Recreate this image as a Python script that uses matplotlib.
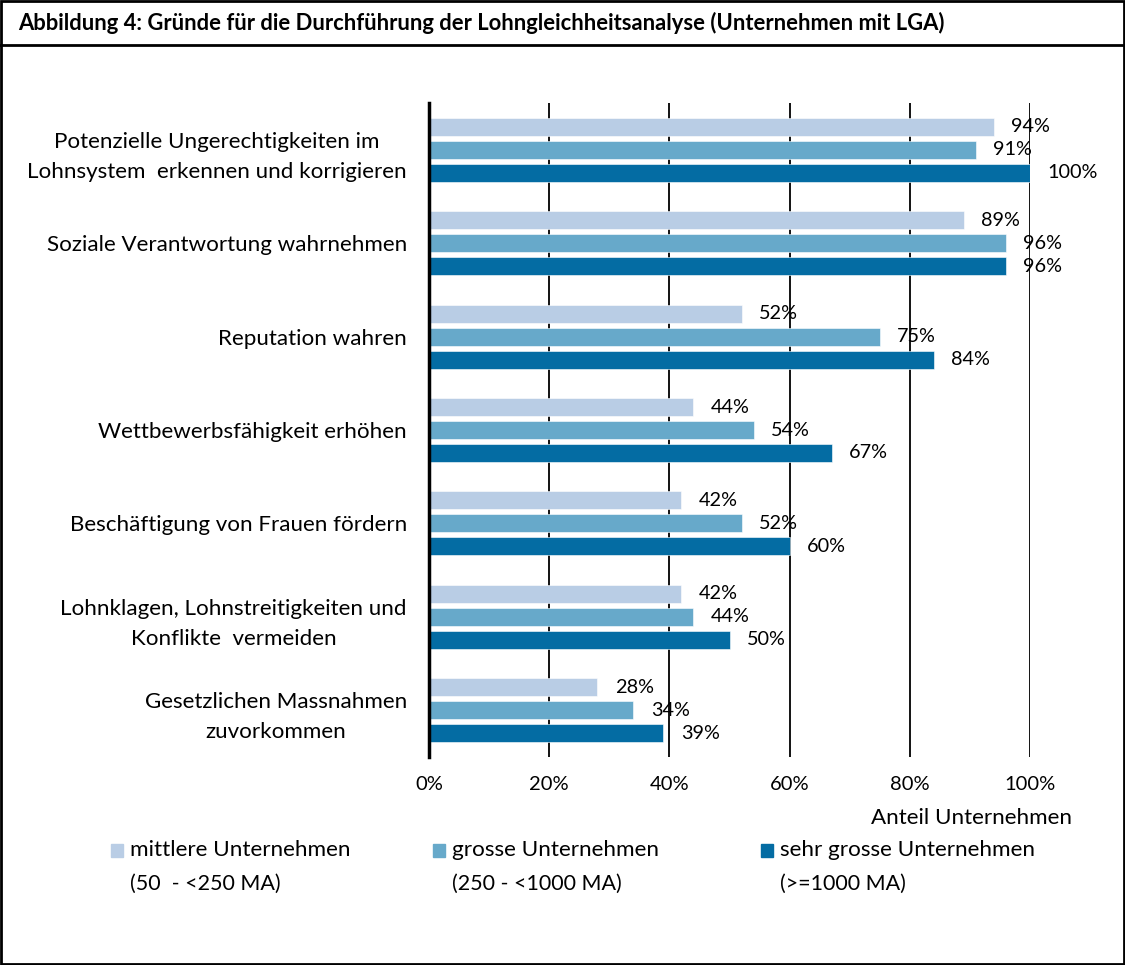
import matplotlib
matplotlib.use("Agg")
import matplotlib.pyplot as plt
from matplotlib.patches import Rectangle
from matplotlib.lines import Line2D
import numpy as np

plt.rcParams['font.family'] = ['Lato', 'DejaVu Sans']

# data
categories = [
    "Potenzielle Ungerechtigkeiten im\nLohnsystem  erkennen und korrigieren",
    "Soziale Verantwortung wahrnehmen",
    "Reputation wahren",
    "Wettbewerbsfähigkeit erhöhen",
    "Beschäftigung von Frauen fördern",
    "Lohnklagen, Lohnstreitigkeiten und\nKonflikte  vermeiden",
    "Gesetzlichen Massnahmen\nzuvorkommen",
]
mittlere = [94, 89, 52, 44, 42, 42, 28]
grosse = [91, 96, 75, 54, 52, 44, 34]
sehr_grosse = [100, 96, 84, 67, 60, 50, 39]
series_names = ["mittlere Unternehmen", "grosse Unternehmen", "sehr grosse Unternehmen"]
series_sub = ["(50  - <250 MA)", "(250 - <1000 MA)", "(>=1000 MA)"]
xticks = [0, 20, 40, 60, 80, 100]

title = "Abbildung 4: Gründe für die Durchführung der Lohngleichheitsanalyse (Unternehmen mit LGA)"
colors = ["#B9CDE5", "#67A9CA", "#046CA3"]

W, H = 1125, 965
fig = plt.figure(figsize=(W / 100, H / 100), dpi=100)

# outer frame and title band
fig.patches.append(Rectangle((1 / W, 1 / H), 1 - 2 / W, 1 - 2 / H, transform=fig.transFigure,
                             fill=False, lw=2, ec="black"))
fig.lines.append(Line2D([0, 1], [1 - 45 / H, 1 - 45 / H], transform=fig.transFigure, color="black", lw=2))
fig.text(18 / W, 1 - 23 / H, title, ha="left", va="center", fontsize=15.8, fontweight="bold")

ax = fig.add_axes([429 / W, 1 - 757 / H, 601 / W, 654 / H])

y = np.arange(len(categories))
h = 0.193
step = 0.246
all_series = [mittlere, grosse, sehr_grosse]
for i, (vals, c) in enumerate(zip(all_series, colors)):
    ax.barh(y + (i - 1) * step, vals, height=h, color=c, edgecolor="white", linewidth=0.4,
            zorder=3, label=series_names[i])
    for yy, v in zip(y + (i - 1) * step, vals):
        ax.annotate(f"{v}%", (v, yy), xytext=(12.5, 0), textcoords="offset points",
                    ha="left", va="center", fontsize=14.3, zorder=5)

ax.set_xlim(0, 100)
ax.set_ylim(len(categories) - 0.5, -0.5)
ax.set_xticks(xticks)
ax.set_xticklabels([f"{t}%" for t in xticks], fontsize=14.5)
ax.set_yticks(y)
ax.set_yticklabels(categories, fontsize=16.1, ha="right", multialignment="center", linespacing=1.62)
ax.tick_params(axis="x", length=0, pad=14)
ax.tick_params(axis="y", length=0, pad=16)
ax.xaxis.grid(True, color="black", lw=1.3, zorder=1)
for s in ["top", "right", "bottom"]:
    ax.spines[s].set_visible(False)
ax.spines["left"].set_linewidth(2.5)
ax.spines["left"].set_zorder(4)

fig.text(1072 / W, 1 - 818 / H, "Anteil Unternehmen", ha="right", va="center", fontsize=16.1)

# legend
leg_x = [111, 433, 761]
for lx, name, sub, c in zip(leg_x, series_names, series_sub, colors):
    fig.patches.append(Rectangle((lx / W, 1 - 857 / H), 12 / W, 13 / H, transform=fig.transFigure,
                                 color=c))
    fig.text((lx + 19) / W, 1 - 850 / H, name, ha="left", va="center", fontsize=16.2)
    fig.text((lx + 19) / W, 1 - 884 / H, sub, ha="left", va="center", fontsize=15.5)

fig.savefig("out.png", dpi=100)
